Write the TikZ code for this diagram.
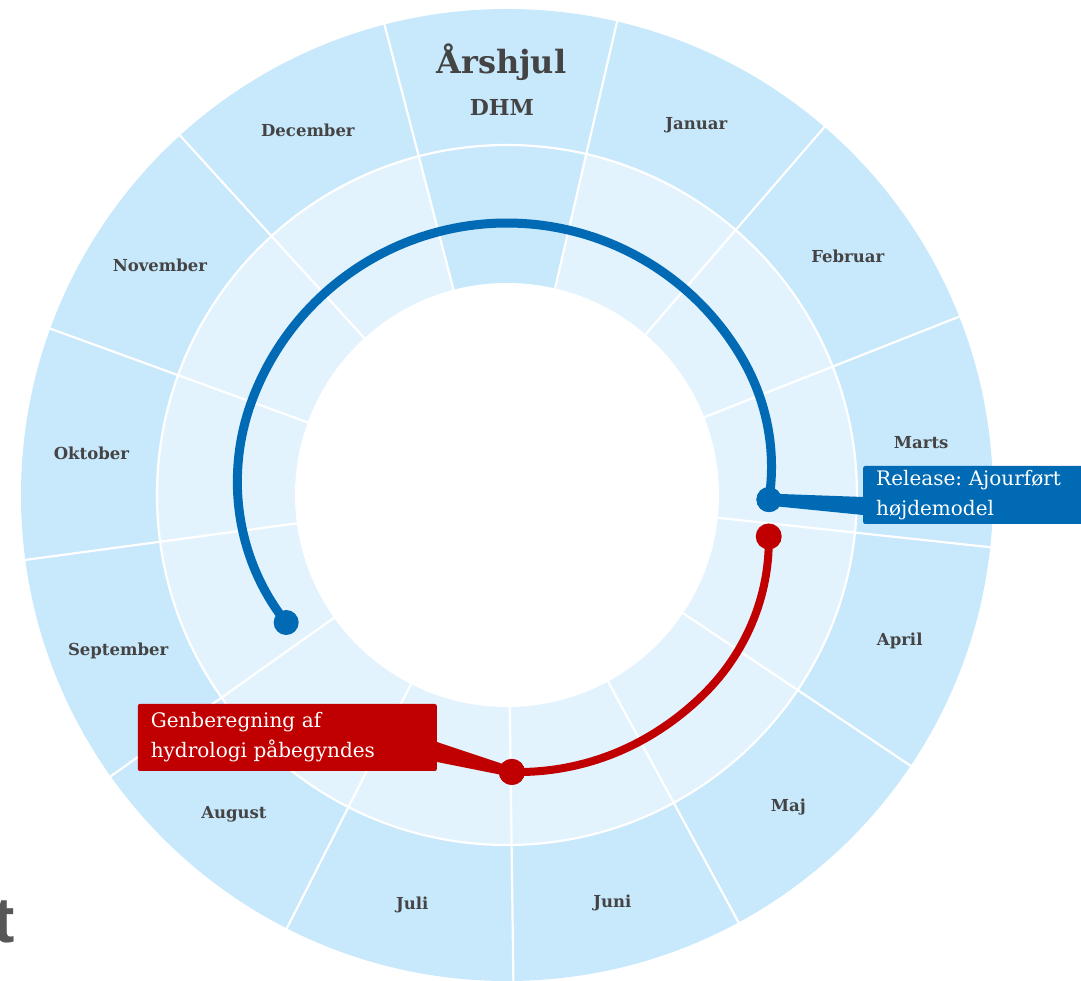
\documentclass[tikz,border=0pt]{standalone}
\usepackage{fontspec}
\setmainfont{DejaVu Serif}
\newfontfamily\cutfont{Liberation Sans}
\definecolor{ringout}{HTML}{C8E8FC}
\definecolor{ringin}{HTML}{E2F3FE}
\definecolor{dhmblue}{HTML}{006AB4}
\definecolor{dhmred}{HTML}{C00000}
\definecolor{labelgray}{HTML}{444444}
\frenchspacing

\begin{document}
\begin{tikzpicture}
        [x=1pt, y=1pt,
        month/.style={font=\fontsize{16.5}{19}\selectfont\bfseries, text=labelgray, yshift=-3pt},
        divider/.style={white, line width=2.2pt},
        bluetrack/.style={dhmblue, line width=9pt},
        redtrack/.style={dhmred, line width=8pt},
        bluedot/.style={circle, fill=dhmblue, minimum size=25pt, inner sep=0pt},
        reddot/.style={circle, fill=dhmred, minimum size=26pt, inner sep=0pt},
        callout/.style={text=white, align=left, text width=#1, inner xsep=13pt,
            inner ysep=0pt, rounded corners=2pt, font=\fontsize{20}{30}\selectfont}]

        \clip (-507,-486) rectangle (574,495);

        % wheel with 13 equal sectors
        \fill[ringout] (0,0) circle[radius=486pt];
        \fill[ringin] (0,0) circle[radius=350pt];
        \fill[ringout] (0,0) -- (104.6:350pt) arc[start angle=104.6, end angle=76.9, radius=350pt] -- cycle;
        \fill[white] (0,0) circle[radius=212pt];
        \draw[divider] (0,0) circle[radius=350pt];
        \foreach \k in {0,...,12}
            \draw[divider] ({104.6-27.6923*\k}:212pt) -- ({104.6-27.6923*\k}:488pt);

        % title
        \node[font=\fontsize{32}{38}\selectfont\bfseries, text=labelgray] (title) at (90.75:433pt) {Årshjul};
        \node[font=\fontsize{22}{26}\selectfont\bfseries, text=labelgray] (dhm) at (90.75:388pt) {DHM};

        % months
        \node[month] (jan) at (63.06:418pt) {Januar};
        \node[month] (feb) at (35.37:418pt) {Februar};
        \node[month] (mar) at (7.67:418pt) {Marts};
        \node[month] (apr) at (-20.02:418pt) {April};
        \node[month] (maj) at (-47.71:418pt) {Maj};
        \node[month] (jun) at (-75.40:418pt) {Juni};
        \node[month] (jul) at (-103.10:418pt) {Juli};
        \node[month] (aug) at (-130.79:418pt) {August};
        \node[month] (sep) at (-158.48:418pt) {September};
        \node[month] (okt) at (-186.17:418pt) {Oktober};
        \node[month] (nov) at (-213.87:418pt) {November};
        \node[month] (dec) at (-241.56:418pt) {December};

        % tracks (radius tapers a little near the ends)
        \draw[bluetrack] plot[domain=210:-1, samples=150]
            (\x:{272-17*(max(0,\x-160)/50)^2-10*(max(0,30-\x)/31)^2});
        \draw[redtrack] plot[domain=-9:-89, samples=100]
            (\x:{280-15*(max(0,\x+45)/36)^2-3*(max(0,-60-\x)/29)^2});

        \node[bluedot] (bstart) at (210:255pt) {};
        \node[bluedot] (bend) at (-1:262pt) {};
        \node[reddot] (rstart) at (-9:265pt) {};
        \node[reddot] (rend) at (-89:277pt) {};

        % callouts
        \node[callout=200pt, fill=dhmblue, anchor=west, minimum height=58pt] (relbox) at (356,0)
            {Release: Ajourført\\højdemodel};
        \node[callout=273pt, fill=dhmred, anchor=east, minimum height=67pt] (genbox) at (-70,-242.5)
            {Genberegning af\\hydrologi påbegyndes};

        \fill[dhmblue] ([yshift=6pt]bend.center) -- ([yshift=-2pt]relbox.west)
            -- ([yshift=-20pt]relbox.west) -- ([yshift=-6pt]bend.center) -- cycle;
        \fill[dhmred] ([yshift=-4.5pt]genbox.east) -- ([yshift=5pt]rend.center)
            -- ([yshift=-5pt]rend.center) -- ([yshift=-24.5pt]genbox.east) -- cycle;
        \node[bluedot] at (bend) {};
        \node[reddot] at (rend) {};

        \node[font=\cutfont\fontsize{64}{64}\selectfont\bfseries, text=labelgray!90!white, anchor=base east,
            inner sep=0pt] (cut) at (-492,-447) {t};

    \end{tikzpicture}
\end{document}
